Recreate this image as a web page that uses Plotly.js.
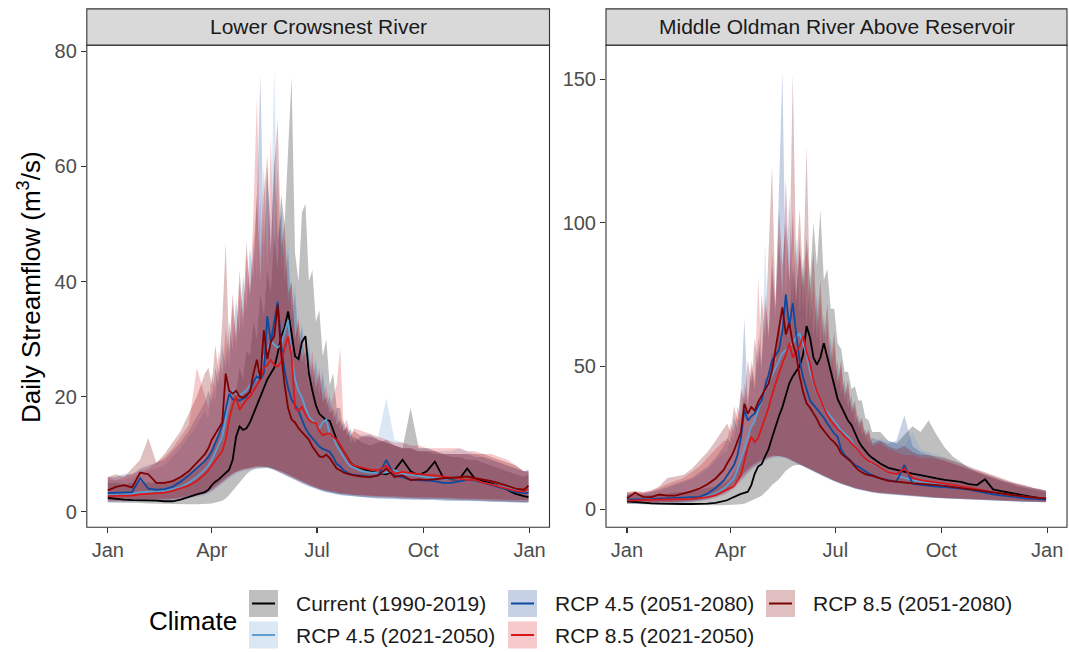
<!DOCTYPE html>
<html><head><meta charset="utf-8">
<script src="https://cdn.plot.ly/plotly-3.0.1.min.js"></script>
<style>html,body{margin:0;padding:0;background:#fff}#chart{width:1069px;height:652px}</style>
</head><body><div id="chart"></div>
<script>
// ---------- DATA ----------
const dayOfYear = [1,8,15,22,29,36,43,50,57,64,71,78,85,
 88,91,94,97,100,103,106,109,112,115,118,121,124,127,130,133,136,139,142,145,148,151,154,157,160,163,166,169,172,175,178,181,184,187,190,193,196,199,202,205,208,211,214,
 221,228,235,242,249,256,263,270,277,284,291,298,305,312,319,326,333,340,347,354,361,365];
const tickDates = ['2001-01-01','2001-04-01','2001-07-01','2001-10-01','2002-01-01'];
const tickLabels = ['Jan','Apr','Jul','Oct','Jan'];
const seriesNames = ['Current (1990-2019)','RCP 4.5 (2021-2050)','RCP 4.5 (2051-2080)','RCP 8.5 (2021-2050)','RCP 8.5 (2051-2080)'];
const panelTitles = ['Lower Crowsnest River','Middle Oldman River Above Reservoir'];
const crowsnestTicks = [0,20,40,60,80];
const oldmanTicks = [0,50,100,150];

// Lower Crowsnest River
const crCurMed = [2.4,2.2,2.1,2.0,2.0,1.9,1.9,1.8,1.8,2.1,2.6,3.0,3.4,
 3.8,4.6,5.2,5.6,6.2,6.8,7.3,9.0,13.0,14.8,14.2,14.5,15.5,17.0,18.5,20.0,21.7,23.0,24.0,25.0,27.5,30.4,32.0,34.8,31.0,27.0,26.5,29.5,30.5,24.0,21.0,18.5,17.0,16.5,15.9,15.8,14.0,12.5,11.5,10.5,9.3,8.5,8.0,
 7.5,7.0,6.7,6.5,7.2,9.0,7.0,6.3,7.0,8.7,6.0,5.6,5.6,7.5,5.6,5.3,4.9,4.4,3.7,3.1,2.7,2.5];
const crCurLo = [1.6,1.6,1.5,1.5,1.5,1.4,1.4,1.4,1.3,1.3,1.3,1.3,1.3,
 1.35,1.4,1.5,1.7,1.9,2.3,2.9,3.5,4.2,5.0,5.8,6.5,7.0,7.3,7.5,7.6,7.6,7.6,7.5,7.4,7.2,7.0,6.8,6.5,6.2,5.9,5.6,5.3,5.0,4.7,4.4,4.1,3.9,3.7,3.5,3.3,3.2,3.1,3.0,2.9,2.8,2.8,2.7,
 2.6,2.5,2.5,2.4,2.4,2.3,2.3,2.2,2.2,2.2,2.1,2.1,2.0,2.0,1.9,1.9,1.8,1.8,1.7,1.7,1.6,1.6];
const crCurHi = [5.0,5.0,4.8,5.0,5.2,5.0,5.0,5.0,5.5,6.0,6.5,7.5,9.0,
 10,11,12,13,14,16,18,20,21,25,23,28,27,33,30,38,34,42,38,48,42,55,50,64,75.5,45,40,52,53.5,40,42,33,35,27,30,22,24,18,18,14,15,12,13,
 12,11.5,12,12.5,11.5,11,18,11,11,10.5,10,9.5,9.5,9,9,8.5,8,7.5,7,6.5,6,6.5];
const crR45aMed = [2.9,3.0,3.0,3.1,3.4,3.5,3.5,3.6,3.9,4.3,5.0,6.0,7.3,
 8.0,9.0,10.3,11.5,13.0,16.0,20.5,21.0,20.5,20.3,20.6,21.1,22.0,22.5,23.0,25.0,27.0,28.0,29.8,29.0,28.5,29.0,31.0,33.3,27.0,23.0,21.0,19.8,18.0,16.5,15.9,15.2,14.5,15.5,16.0,13.5,13.0,11.5,10.5,9.6,8.5,7.9,7.6,
 7.0,6.8,6.7,6.8,7.2,6.6,6.4,6.2,6.1,5.8,5.6,5.8,5.7,5.5,5.4,5.0,4.7,4.3,4.0,3.7,3.5,3.6];
const crR45aLo = [1.7,1.7,1.7,1.7,1.8,1.8,1.8,1.9,2.0,2.1,2.3,2.5,2.8,
 3.1,3.4,3.8,4.2,4.7,5.2,5.7,6.1,6.5,6.8,7.0,7.2,7.3,7.4,7.5,7.6,7.6,7.6,7.5,7.3,7.1,6.8,6.5,6.2,5.9,5.7,5.4,5.1,4.8,4.5,4.2,4.0,3.8,3.6,3.4,3.3,3.1,3.0,2.9,2.8,2.7,2.7,2.6,
 2.5,2.4,2.3,2.3,2.2,2.2,2.1,2.1,2.0,2.0,2.0,1.9,1.9,1.9,1.8,1.8,1.7,1.7,1.7,1.6,1.6,1.6];
const crR45aHi = [5.5,5.5,5.5,6.0,6.5,7.0,7.5,8.0,9.5,11.0,13.0,15.0,17.5,
 16,21,19,25,22,29,25,33,28,37,31,42,36,48,40,55,42,58,50,77,48,55,42,48,36,40,30,33,26,30,23,27,22,25,19,21,17,18,15,16,13,14.5,12,
 13.5,13,13,19.7,12.5,12,11.5,11,11,10.5,10.5,10.5,11,10.5,10,9.5,9,8.5,8,7.5,7,7.5];
const crR45bMed = [3.2,3.3,3.4,3.4,5.8,4.0,3.8,3.9,4.3,5.2,6.3,7.5,8.8,
 9.5,10.5,12.0,13.3,15.0,17.5,20.5,19.5,19.5,19.3,19.6,20.0,21.0,22.5,23.5,23.0,24.0,34.0,29.5,33.0,36.5,29.0,24.5,21.5,19.5,18.5,17.5,16.0,14.5,13.5,12.8,12.2,11.3,10.9,10.6,10.4,9.5,8.3,7.9,7.2,6.8,6.5,6.4,
 6.2,6.1,6.3,9.0,6.3,6.0,5.5,5.5,5.4,5.3,5.0,5.0,5.3,5.5,5.4,5.0,4.5,4.1,3.7,3.4,3.2,3.3];
const crR45bLo = [1.8,1.8,1.8,1.8,1.9,1.9,1.9,2.0,2.1,2.3,2.5,2.8,3.1,
 3.4,3.7,4.1,4.6,5.1,5.6,6.1,6.5,6.9,7.1,7.3,7.5,7.6,7.7,7.8,7.8,7.8,7.7,7.5,7.3,7.0,6.7,6.4,6.1,5.8,5.5,5.2,4.9,4.6,4.3,4.1,3.9,3.7,3.5,3.3,3.2,3.1,3.0,2.9,2.8,2.7,2.6,2.6,
 2.5,2.4,2.3,2.2,2.2,2.1,2.1,2.0,2.0,2.0,1.9,1.9,1.9,1.8,1.8,1.8,1.7,1.7,1.7,1.6,1.6,1.6];
const crR45bHi = [6.0,6.0,6.5,6.5,7.5,8.0,8.5,9.0,10.5,12.0,14.0,16.5,19.0,
 21,19,25,22,29,25,33,28,37,31,41,35,46,40,55,76,46,60,45,62,47,52,40,45,34,38,29,32,25,28,22,26,20,24,18,20,16,17.5,14,15.5,13,14.5,12,
 13,13.5,12.5,12,11.5,11,11,10.5,10.5,10,10,10,10,10,9.5,9.5,9,8.5,8,7.5,7,7];
const crR85aMed = [2.7,2.7,2.8,2.8,3.0,3.1,3.2,3.3,3.6,4.0,4.5,5.3,6.5,
 7.2,8.0,9.0,9.8,10.5,12.5,16.0,18.5,20.0,17.7,18.5,19.5,20.0,21.0,22.0,23.0,25.0,25.5,26.4,25.5,25.2,26.0,28.5,30.4,27.0,18.0,17.5,18.2,17.0,15.9,15.5,15.4,14.0,13.3,13.5,13.6,13.0,12.5,11.6,10.5,9.3,8.4,8.0,
 7.6,7.3,7.2,8.0,6.6,6.9,6.7,6.5,6.4,6.3,6.1,5.9,5.7,5.5,5.5,5.0,4.7,4.3,3.9,3.6,3.5,3.9];
const crR85aLo = [1.8,1.8,1.8,1.8,1.9,1.9,1.9,2.0,2.1,2.2,2.4,2.7,3.0,
 3.3,3.6,4.0,4.5,5.0,5.5,6.0,6.4,6.8,7.0,7.2,7.4,7.5,7.6,7.7,7.8,7.8,7.8,7.7,7.5,7.3,7.0,6.8,6.5,6.2,6.0,5.7,5.4,5.1,4.8,4.5,4.3,4.1,3.9,3.7,3.5,3.4,3.3,3.2,3.1,3.0,2.9,2.9,
 2.8,2.7,2.6,2.5,2.5,2.4,2.4,2.3,2.3,2.3,2.2,2.2,2.1,2.1,2.0,2.0,1.9,1.9,1.8,1.8,1.7,1.7];
const crR85aHi = [6.0,5.5,6.0,6.5,7.0,7.5,8.5,9.5,11.0,13.0,15.0,25.0,20.0,
 18,24,21,28,24,32,27,36,30,40,33,45,38,52,72,44,60,42,65,45,60,42,48,36,40,30,34,27,30,24,28,22,25,20,22,18,20,22,28.5,15,16,13,14.5,
 14,13.5,13,12.5,12,12,11.5,11.5,11,11,11,11,11,10.5,10.5,10,10,9.5,9,8,7,7];
const crR85bMed = [3.7,4.3,4.6,4.2,6.8,6.5,5.0,5.0,5.3,6.0,7.0,8.5,10.0,
 11.0,12.5,13.5,14.5,15.5,24.0,21.0,20.5,21.0,20.0,19.8,20.3,20.8,24.0,26.4,23.0,31.5,26.5,29.5,30.5,36.0,27.5,22.0,18.0,16.0,15.5,14.5,13.8,13.2,12.5,11.3,10.5,9.6,9.5,9.9,9.3,8.5,7.5,7.2,6.8,6.6,6.4,6.3,
 6.1,6.0,6.3,7.5,6.0,6.3,5.5,5.6,5.5,5.6,5.8,5.9,6.0,6.1,5.8,5.6,5.3,4.9,4.4,4.0,3.8,4.5];
const crR85bLo = [2.0,2.0,2.0,2.0,2.1,2.1,2.1,2.2,2.3,2.5,2.7,3.0,3.4,
 3.7,4.0,4.4,4.9,5.4,5.9,6.3,6.7,7.0,7.2,7.4,7.6,7.7,7.8,7.9,7.9,7.9,7.8,7.6,7.4,7.1,6.8,6.5,6.2,5.9,5.6,5.3,5.0,4.7,4.5,4.3,4.1,3.9,3.7,3.6,3.5,3.4,3.3,3.2,3.1,3.0,3.0,2.9,
 2.8,2.8,2.7,2.7,2.6,2.6,2.5,2.5,2.5,2.4,2.4,2.4,2.3,2.3,2.3,2.2,2.2,2.1,2.1,2.0,2.0,2.0];
const crR85bHi = [6.0,6.5,6.0,7.5,9.0,12.8,8.5,10.0,12.0,14.0,17.0,20.0,24.0,
 25,22,29,24,33,46.8,28,38,30,42,34,47,38,45,55,40,55,62,45,60,68,46,50,38,40,30,33,26,28,22,26,21,24,19,20,17,18,15,16,14,14.5,13,14,
 13,13,12.5,12,11.5,11,11,10.5,10.5,10.5,10,10,10,10,10,10,9.5,9,8.5,8,7,7];

// Middle Oldman River Above Reservoir
const omCurMed = [2.8,2.5,2.3,2.1,2.0,1.9,1.9,1.9,1.9,1.9,2.0,2.3,2.8,
 3.2,3.8,4.4,5.0,5.4,5.8,6.2,8.5,12.5,15.0,15.8,18.5,21.0,25.0,28.9,32.5,35.7,40.0,44.0,46.4,48.0,50.0,54.0,64.0,60.0,53.0,50.5,53.0,58.0,53.0,48.0,43.5,38.5,36.0,33.5,31.0,29.5,26.5,24.0,22.0,20.5,19.0,18.0,
 16.0,14.5,13.8,13.2,12.5,12.0,11.3,10.8,10.3,9.9,9.6,8.8,8.5,10.5,7.0,6.4,5.8,5.3,4.8,4.3,3.9,3.6];
const omCurLo = [2.0,1.9,1.8,1.7,1.6,1.5,1.5,1.5,1.5,1.5,1.5,1.5,1.5,
 1.5,1.5,1.6,1.7,1.8,2.0,2.4,3.0,3.6,4.2,4.8,5.8,7.0,8.5,9.5,10.5,12.0,13.5,14.5,15.2,15.5,15.5,15.2,14.8,14.2,13.6,13.0,12.4,11.8,11.2,10.6,10.0,9.5,9.0,8.6,8.2,7.8,7.4,7.1,6.8,6.5,6.3,6.1,
 5.7,5.4,5.1,4.9,4.7,4.5,4.3,4.1,3.9,3.8,3.6,3.5,3.4,3.2,3.1,3.0,2.9,2.8,2.7,2.6,2.5,2.5];
const omCurHi = [5.0,5.0,5.0,5.0,5.0,5.5,6.0,6.0,6.5,7.0,7.5,8.0,9.0,
 10,11,13,15,17,20,22,28,30,38,36,46,42,55,50,65,58,75,65,85,72,90,78,95,80,100,85,104.5,80,84,70,70,58,56,48,48,42,43,38,38,32,31,27,
 27,24,23,26,29,27,31,26,21.6,18.5,16.4,14.5,13,12,11,10,9,8,7.5,7,6.5,6];
const omR45aMed = [3.3,3.3,3.4,3.5,3.6,3.6,3.7,3.8,3.9,4.1,4.6,5.6,7.2,
 8.3,9.5,10.8,14.0,17.5,21.0,25.3,29.0,31.0,35.0,38.5,41.5,44.0,47.0,49.5,52.0,54.5,55.6,57.0,58.0,60.0,61.4,58.0,54.0,48.0,44.0,40.6,38.0,35.7,34.0,32.3,31.0,29.0,27.6,26.5,25.3,24.0,22.0,20.7,19.0,17.8,16.8,16.0,
 14.5,13.2,11.8,11.0,10.2,9.7,9.4,9.1,8.7,8.3,8.0,7.5,7.0,6.4,5.9,5.5,5.0,4.7,4.3,4.0,3.8,3.7];
const omR45aLo = [2.0,2.0,2.0,2.1,2.1,2.2,2.2,2.3,2.5,2.8,3.3,4.0,5.0,
 5.6,6.3,7.2,8.4,9.6,11.0,12.3,13.5,14.5,15.3,16.0,16.7,17.3,17.8,18.0,18.1,18.0,17.7,17.3,16.8,16.3,15.7,15.1,14.5,13.9,13.3,12.7,12.1,11.5,10.9,10.3,9.8,9.3,8.8,8.4,8.0,7.6,7.3,7.0,6.7,6.4,6.2,6.0,
 5.6,5.3,5.0,4.8,4.6,4.4,4.2,4.0,3.8,3.7,3.5,3.4,3.3,3.2,3.1,3.0,2.9,2.8,2.7,2.6,2.5,2.5];
const omR45aHi = [5.5,5.5,5.5,6.0,6.5,7.5,8.5,9.5,10.5,12.0,14.0,17.0,20.0,
 20,26,24,32,29,40,35,48,42,56,48,93.4,58,80,66,92,75,115,80,100,72,92,68,84,62,76,56,70,52,62,46,55,42,48,37,42,33,36,28,31,25,27,22,
 25,24,23,22,27,21,20,19,18,17,16,14.5,13.5,12.5,11.5,10.5,9.5,9,8,7.5,7,6.5];
const omR45bMed = [3.5,3.5,3.6,3.6,3.8,3.9,3.9,4.0,4.2,4.4,5.5,7.5,10.0,
 11.8,13.5,15.5,19.0,25.0,34.8,31.0,32.5,33.5,36.0,38.0,43.0,47.0,52.0,54.0,55.6,62.0,75.0,64.0,72.0,61.0,52.0,46.0,42.0,38.0,36.5,35.0,33.5,32.0,30.0,28.0,26.5,25.3,21.0,19.0,17.8,16.5,15.5,14.9,14.0,13.2,12.5,12.0,
 10.8,10.2,9.7,15.5,9.1,8.6,8.2,8.0,7.8,7.6,7.3,6.9,6.3,5.7,5.3,4.9,4.5,4.2,3.9,3.7,3.5,3.4];
const omR45bLo = [2.1,2.1,2.1,2.2,2.2,2.3,2.3,2.4,2.6,3.0,3.6,4.5,5.6,
 6.4,7.2,8.3,9.5,10.8,12.2,13.4,14.5,15.4,16.2,16.9,17.5,18.0,18.4,18.6,18.6,18.4,18.0,17.5,17.0,16.4,15.8,15.1,14.5,13.9,13.3,12.7,12.1,11.5,10.9,10.3,9.8,9.3,8.8,8.4,8.0,7.6,7.2,6.9,6.6,6.3,6.1,5.9,
 5.5,5.2,4.9,4.7,4.5,4.3,4.1,3.9,3.8,3.7,3.5,3.4,3.3,3.2,3.1,3.0,2.9,2.8,2.7,2.6,2.5,2.5];
const omR45bHi = [5.5,5.5,5.5,6.0,7.0,8.0,9.0,10.0,11.0,13.0,15.0,18.0,22.0,
 25,23,32,28,40,67,36,50,42,60,50,72,60,85,70,110,153,75,110,72,95,68,88,64,82,60,75,55,68,50,60,45,52,40,45,35,40,30,33,26,28,23,25,
 24,23,24,32.9,22,20,19,18,17,16,15,14,13,12,11,10,9.5,8.5,8,7.5,7,6.5];
const omR85aMed = [3.1,3.1,3.2,3.3,3.4,3.4,3.5,3.6,3.7,3.9,4.3,5.0,6.2,
 6.8,7.5,8.2,10.0,12.0,17.0,22.0,25.3,23.5,25.0,28.5,32.0,35.5,40.0,44.0,47.5,51.0,54.0,58.0,53.0,55.0,56.8,60.5,55.0,51.0,45.0,41.0,38.0,35.5,33.0,31.0,29.5,28.0,27.0,25.5,24.5,23.0,21.8,20.7,19.0,17.8,16.8,16.3,
 14.5,13.0,12.2,14.3,11.0,10.2,9.8,9.3,9.0,8.6,8.2,7.6,7.1,6.5,6.0,5.5,5.1,4.7,4.4,4.1,4.0,3.9];
const omR85aLo = [2.2,2.2,2.2,2.2,2.3,2.3,2.4,2.5,2.7,3.0,3.5,4.2,5.2,
 5.8,6.5,7.5,8.8,10.0,11.5,12.8,14.0,15.0,15.8,16.5,17.2,17.8,18.3,18.5,18.6,18.5,18.2,17.8,17.3,16.8,16.2,15.6,15.0,14.4,13.8,13.2,12.6,12.0,11.4,10.8,10.2,9.7,9.2,8.8,8.4,8.0,7.6,7.3,7.0,6.7,6.4,6.2,
 5.8,5.5,5.2,5.0,4.8,4.6,4.4,4.2,4.0,3.9,3.7,3.6,3.5,3.3,3.2,3.1,3.0,2.9,2.8,2.7,2.6,2.6];
const omR85aHi = [6.0,6.0,6.0,6.5,7.5,9.0,10.0,11.0,13.0,15.0,18.0,21.0,24.0,
 24,30,27,36,32,44,38,52,45,81,52,75,62,90,70,95,75,116,78,105,75,95,70,90,65,80,60,74,54,66,48,58,43,50,38,43,33,36,28,31,25,27,22,
 23,21,20,19,19,18,18,17.5,17,16,15,14,13.5,12.5,11.5,10.5,9.5,9,8,7.5,7,6.5];
const omR85bMed = [3.9,5.8,4.4,4.3,5.2,4.8,4.8,5.5,6.3,7.3,8.8,10.8,13.8,
 16.0,18.0,20.5,23.5,27.0,36.9,33.4,35.7,34.5,37.5,39.5,41.5,44.0,48.4,55.6,62.0,70.5,61.0,65.0,58.0,54.0,46.4,41.0,37.0,35.5,33.5,31.5,29.0,27.5,26.0,24.5,23.5,22.0,19.5,18.5,17.5,16.5,15.0,13.7,13.0,12.3,12.0,11.8,
 10.8,10.0,9.7,9.3,9.1,8.9,8.8,8.5,8.2,7.8,7.5,7.1,6.8,6.4,6.0,5.6,5.2,4.8,4.5,4.2,4.0,3.8];
const omR85bLo = [2.4,2.4,2.4,2.4,2.5,2.5,2.6,2.8,3.1,3.5,4.2,5.0,6.2,
 7.0,8.0,9.2,10.5,11.8,13.0,14.2,15.2,16.0,16.8,17.4,18.0,18.4,18.7,18.8,18.7,18.5,18.1,17.6,17.0,16.4,15.8,15.2,14.6,14.0,13.4,12.8,12.2,11.6,11.0,10.5,10.0,9.5,9.0,8.6,8.2,7.8,7.5,7.2,6.9,6.6,6.4,6.2,
 5.8,5.5,5.2,5.0,4.8,4.6,4.4,4.2,4.0,3.9,3.8,3.6,3.5,3.4,3.3,3.2,3.1,3.0,2.9,2.8,2.7,2.7];
const omR85bHi = [6.0,6.5,6.0,6.5,8.0,11.0,11.5,12.0,14.0,17.0,20.0,24.0,28.0,
 30,27,36,31,42,38,52,44,60,50,75,60,88,120,72,105,85,100,80,152,85,105,80,126.6,75,90,65,80,60,72,52,62,45,52,40,45,35,38,30,32,26,28,23,
 24,22,21,22,20,19,19,18.5,18,17,16,15,14,13,12,11,10,9,8.5,7.5,7,6.5];

// ---------- STYLE / BUILD ----------
const W = 1069, H = 652;
const FONT = 'Liberation Sans, Arial, Helvetica, sans-serif';
const lineColors = ['#000000','#5d9fd0','#0b4a9e','#d7191c','#7f0000'];
const fillColors = ['rgba(0,0,0,0.25)','rgba(110,160,210,0.25)','rgba(30,70,150,0.25)','rgba(220,40,50,0.25)','rgba(128,0,0,0.25)'];
const px = x => x / W;
const py = y => 1 - y / H;
function toDate(d) { return new Date(Date.UTC(2001, 0, 1) + (d - 1) * 864e5).toISOString().slice(0, 10); }
const dates = dayOfYear.map(toDate);
const datesRev = dates.slice().reverse();

const panels = [
  {xa: 'x', ya: 'y', med: [crCurMed, crR45aMed, crR45bMed, crR85aMed, crR85bMed],
   lo: [crCurLo, crR45aLo, crR45bLo, crR85aLo, crR85bLo], hi: [crCurHi, crR45aHi, crR45bHi, crR85aHi, crR85bHi]},
  {xa: 'x2', ya: 'y2', med: [omCurMed, omR45aMed, omR45bMed, omR85aMed, omR85bMed],
   lo: [omCurLo, omR45aLo, omR45bLo, omR85aLo, omR85bLo], hi: [omCurHi, omR45aHi, omR45bHi, omR85aHi, omR85bHi]}
];

const traces = [];
panels.forEach(p => {
  seriesNames.forEach((n, i) => {
    traces.push({type: 'scatter', mode: 'lines', name: n, x: dates.concat(datesRev),
      y: p.hi[i].concat(p.lo[i].slice().reverse()), fill: 'toself', fillcolor: fillColors[i],
      line: {width: 0, color: 'rgba(0,0,0,0)'}, xaxis: p.xa, yaxis: p.ya, hoverinfo: 'skip', showlegend: false});
  });
  seriesNames.forEach((n, i) => {
    traces.push({type: 'scatter', mode: 'lines', name: n, x: dates, y: p.med[i],
      line: {color: lineColors[i], width: 1.8}, xaxis: p.xa, yaxis: p.ya, showlegend: false});
  });
});

const panelBox = [[86.8, 549.5], [606, 1067]];
const plotTop = 45.1, plotBot = 527.2, stripTop = 8.9;
const xRange = ['2000-12-13 19:12', '2002-01-18 04:48'];
const tickFont = {family: FONT, size: 20, color: '#4d4d4d'};
function xAxis(i, anchor) {
  return {domain: [px(panelBox[i][0]), px(panelBox[i][1])], anchor: anchor, type: 'date', range: xRange,
    tickmode: 'array', tickvals: tickDates, ticktext: tickLabels, ticks: 'outside', ticklen: 5, tickwidth: 1.1,
    tickcolor: '#333333', showgrid: false, zeroline: false, showline: false, tickfont: tickFont, fixedrange: true};
}
function yAxis(anchor, range, tv) {
  return {domain: [py(plotBot), py(plotTop)], anchor: anchor, range: range, tickmode: 'array', tickvals: tv,
    ticks: 'outside', ticklen: 5, tickwidth: 1.1, tickcolor: '#333333', showgrid: false, zeroline: false,
    showline: false, tickfont: tickFont, fixedrange: true};
}

const shapes = [], annotations = [];
panelBox.forEach((b, i) => {
  shapes.push({type: 'rect', xref: 'paper', yref: 'paper', x0: px(b[0]), x1: px(b[1]), y0: py(plotBot), y1: py(plotTop),
    line: {color: '#333333', width: 1.1}, fillcolor: 'rgba(0,0,0,0)', layer: 'above'});
  shapes.push({type: 'rect', xref: 'paper', yref: 'paper', x0: px(b[0]), x1: px(b[1]), y0: py(plotTop), y1: py(stripTop),
    line: {color: '#333333', width: 1.1}, fillcolor: '#d9d9d9', layer: 'above'});
  annotations.push({xref: 'paper', yref: 'paper', x: px((b[0] + b[1]) / 2), y: py((plotTop + stripTop) / 2),
    text: panelTitles[i], showarrow: false, xanchor: 'center', yanchor: 'middle', font: {family: FONT, size: 21, color: '#1a1a1a'}});
});
annotations.push({xref: 'paper', yref: 'paper', x: px(29), y: py(287), textangle: -90, showarrow: false,
  text: 'Daily Streamflow (m<sup>3</sup>/s)', xanchor: 'center', yanchor: 'middle', font: {family: FONT, size: 26, color: '#000000'}});

// legend (ggplot-like, column-major 2 rows)
annotations.push({xref: 'paper', yref: 'paper', x: px(147), y: py(621), text: 'Climate', showarrow: false,
  xanchor: 'left', yanchor: 'middle', font: {family: FONT, size: 26, color: '#000000'}});
const keyCols = [249, 508, 766], keyRows = [590, 621.5], keyW = 29, keyH = 27;
seriesNames.forEach((n, i) => {
  const c = Math.floor(i / 2), r = i % 2;
  const x0 = keyCols[c], y0 = keyRows[r];
  shapes.push({type: 'rect', xref: 'paper', yref: 'paper', x0: px(x0), x1: px(x0 + keyW), y0: py(y0 + keyH), y1: py(y0),
    line: {width: 0}, fillcolor: fillColors[i]});
  shapes.push({type: 'line', xref: 'paper', yref: 'paper', x0: px(x0 + 3), x1: px(x0 + keyW - 3), y0: py(y0 + keyH / 2), y1: py(y0 + keyH / 2),
    line: {color: lineColors[i], width: 2}});
  annotations.push({xref: 'paper', yref: 'paper', x: px(x0 + 45), y: py(y0 + keyH / 2), text: n, showarrow: false,
    xanchor: 'left', yanchor: 'middle', font: {family: FONT, size: 21, color: '#1a1a1a'}});
});

const layout = {
  width: W, height: H, margin: {l: 0, r: 0, t: 0, b: 0}, paper_bgcolor: '#ffffff', plot_bgcolor: '#ffffff',
  showlegend: false, font: {family: FONT},
  xaxis: xAxis(0, 'y'), yaxis: yAxis('x', [-2.71, 81.1], crowsnestTicks),
  xaxis2: xAxis(1, 'y2'), yaxis2: yAxis('x2', [-6.2, 162], oldmanTicks),
  shapes: shapes, annotations: annotations
};
Plotly.newPlot('chart', traces, layout, {displayModeBar: false, staticPlot: true});
</script></body></html>
